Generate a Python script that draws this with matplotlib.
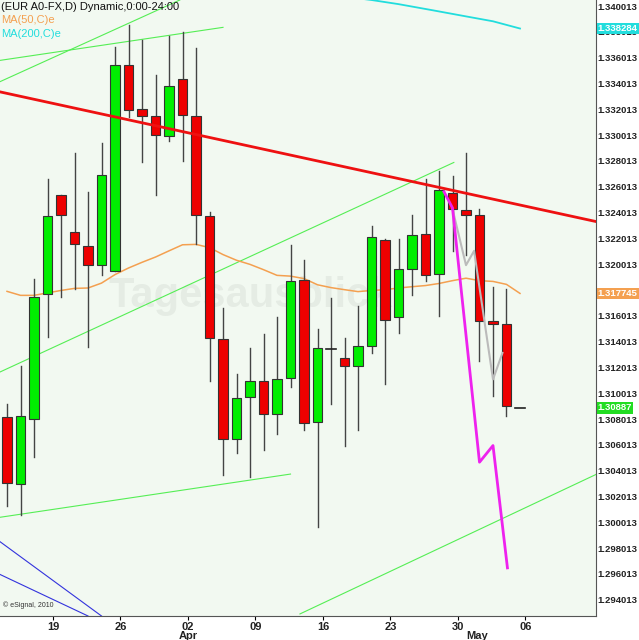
import matplotlib
matplotlib.use("Agg")
import matplotlib.pyplot as plt
import numpy as np
plt.rcParams['font.family'] = ['Liberation Sans', 'DejaVu Sans']

opens  = [1.30818,1.30296,1.30805,1.31772,1.32537,1.32253,1.32139,1.31994,1.31946,1.33549,1.33201,1.33151,1.32993,1.33435,1.33151,1.32373,1.31425,1.30650,1.30973,1.31093,1.30837,1.31118,1.31880,1.30780,1.31346,1.31276,1.31210,1.31371,1.32187,1.31589,1.31962,1.32238,1.31924,1.32550,1.32421,1.32383,1.31558,1.31536,1.30887]
highs  = [1.30919,1.31213,1.31889,1.32664,1.32537,1.32863,1.32563,1.32942,1.33685,1.33859,1.33742,1.33464,1.33770,1.33802,1.33676,1.32405,1.31662,1.31147,1.31355,1.31463,1.31589,1.32152,1.32035,1.31498,1.31741,1.31431,1.31678,1.32294,1.32196,1.32199,1.32379,1.32658,1.32721,1.32683,1.32860,1.32430,1.31827,1.31811,1.30887]
lows   = [1.30128,1.30056,1.30508,1.31437,1.31747,1.31810,1.31361,1.31921,1.31946,1.33141,1.32793,1.32537,1.32958,1.32800,1.32158,1.31093,1.30366,1.30540,1.30350,1.30562,1.30682,1.31046,1.30720,1.29961,1.30919,1.30594,1.30714,1.31314,1.31071,1.31472,1.31763,1.31868,1.31599,1.32105,1.32070,1.31248,1.30982,1.30824,1.30887]
closes = [1.30302,1.30824,1.31750,1.32373,1.32379,1.32158,1.31994,1.32689,1.33549,1.33195,1.33151,1.32999,1.33385,1.33157,1.32379,1.31428,1.30650,1.30966,1.31093,1.30837,1.31109,1.31874,1.30774,1.31349,1.31346,1.31210,1.31368,1.32215,1.31570,1.31966,1.32225,1.31921,1.32573,1.32430,1.32383,1.31564,1.31536,1.30903,1.30887]
ma50 = [1.31791,1.31760,1.31760,1.31779,1.31798,1.31814,1.31817,1.31855,1.31921,1.31972,1.32016,1.32057,1.32105,1.32152,1.32155,1.32130,1.32076,1.32032,1.32000,1.31959,1.31915,1.31909,1.31890,1.31842,1.31820,1.31804,1.31789,1.31798,1.31804,1.31817,1.31827,1.31836,1.31852,1.31874,1.31893,1.31874,1.31868,1.31845,1.31775]
ma200_x = [20,27,29,31.5,34,36,38]
ma200_y = [1.3414,1.34049,1.34017,1.33970,1.33922,1.33884,1.33828]
gray_x = [33,34,34.6,36,36.7]
gray_y = [1.32430,1.31994,1.32105,1.31109,1.31314]
mag_x = [32.37,33,35,36,37.07]
mag_y = [1.32563,1.32437,1.30467,1.30596,1.29648]
red_line = ([-0.52,43.63],[1.33337,1.32332])
green_lines = [([-0.52,12.8],[1.33416,1.34049]),
               ([-0.52,16.0],[1.33581,1.33837]),
               ([-0.52,33.1],[1.31166,1.32790]),
               ([-0.52,21.0],[1.30040,1.30375]),
               ([21.7,43.63],[1.29291,1.30372])]
blue_lines = [([-0.52,7.0],[1.29851,1.29275]),([-0.52,6.0],[1.29597,1.29275])]
yticks = [1.294013+0.002*k for k in range(24)]
xtick_pos = [3.4,8.4,13.4,18.4,23.4,28.4,33.4,38.4]
xtick_lab = ["19","26","02","09","16","23","30","06"]
months = [(13.4,"Apr"),(34.8,"May")]

fig = plt.figure(figsize=(6.39,6.40),dpi=100)
fig.patch.set_facecolor("white")
ax = fig.add_axes([0,0.0375,596/639,0.9625])
ax.set_facecolor("#f2f9f1")
ax.set_xlim(-0.52,43.63)
ax.set_ylim(1.29275,1.34049)

for xs,ys in green_lines:
    ax.plot(xs,ys,color="#55ee55",lw=0.8,zorder=2)
for xs,ys in blue_lines:
    ax.plot(xs,ys,color="#3333dd",lw=0.8,zorder=2)
ax.plot(range(len(ma50)),ma50,color="#f4a050",lw=1.1,zorder=2)
ax.plot(ma200_x,ma200_y,color="#22dddd",lw=1.3,zorder=2)
ax.text(0.42,0.52,"Tagesausblick",transform=ax.transAxes,fontsize=30,fontweight="bold",
        color="#000000",alpha=0.05,ha="center",va="center",zorder=1)

w=0.68
for i,(o,h,l,c) in enumerate(zip(opens,highs,lows,closes)):
    ax.plot([i,i],[l,h],color="#444444",lw=1.0,zorder=3)
    if abs(c-o)<1e-5:
        ax.plot([i-w/2,i+w/2],[o,o],color="#222222",lw=1.2,zorder=4)
        continue
    col = "#00ee00" if c>o else "#ee0000"
    ax.add_patch(plt.Rectangle((i-w/2,min(o,c)),w,abs(c-o),facecolor=col,edgecolor="#333333",lw=0.8,zorder=4))

ax.plot(*red_line,color="#ee1111",lw=2.0,zorder=5)
ax.plot(gray_x,gray_y,color="#bbbbbb",lw=1.5,zorder=5)
ax.plot(mag_x,mag_y,color="#ee22ee",lw=2.0,zorder=6)

ax.yaxis.tick_right()
ax.set_yticks(yticks)
ax.set_yticklabels(["%.6f"%v for v in yticks],fontsize=6.8,fontweight="bold",color="#222222")
ax.tick_params(axis="y",length=0,pad=1)
ax.set_xticks(xtick_pos)
ax.set_xticklabels(xtick_lab,fontsize=8,fontweight="bold",color="#222222")
ax.tick_params(axis="x",length=3,pad=1)
for m_x,m in months:
    ax.text(m_x,-0.025,m,transform=ax.get_xaxis_transform(),ha="center",va="top",fontsize=8,fontweight="bold",color="#222222")
for s in ["top","left"]:
    ax.spines[s].set_visible(False)
ax.spines["right"].set_color("#555555")
ax.spines["bottom"].set_color("#555555")

for val,txt,col in [(1.338284,"1.338284","#22dddd"),(1.317745,"1.317745","#f4a050"),(1.30887,"1.30887","#22dd22")]:
    ax.text(1.003,val,txt,transform=ax.get_yaxis_transform(),ha="left",va="center",fontsize=6.8,fontweight="bold",
            color="white",bbox=dict(boxstyle="square,pad=0.12",facecolor=col,edgecolor="none"),zorder=10,clip_on=False)

ax.text(0.002,0.997,"(EUR A0-FX,D) Dynamic,0:00-24:00",transform=ax.transAxes,fontsize=8,va="top",color="#111111")
ax.text(0.002,0.975,"MA(50,C)e",transform=ax.transAxes,fontsize=8,va="top",color="#f4a050")
ax.text(0.002,0.953,"MA(200,C)e",transform=ax.transAxes,fontsize=8,va="top",color="#22dddd")
ax.text(0.005,0.012,"© eSignal, 2010",transform=ax.transAxes,fontsize=5,va="bottom",color="#333333")
fig.savefig("out.png",dpi=100)
